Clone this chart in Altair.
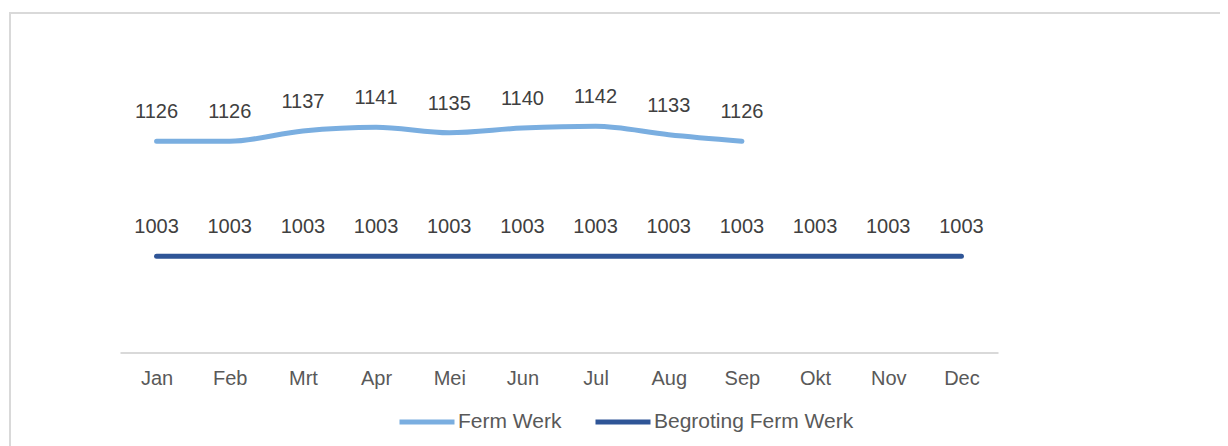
import altair as alt
import pandas as pd

months = ["Jan", "Feb", "Mrt", "Apr", "Mei", "Jun", "Jul", "Aug", "Sep", "Okt", "Nov", "Dec"]
ferm_werk = [1126, 1126, 1137, 1141, 1135, 1140, 1142, 1133, 1126]
begroting = [1003, 1003, 1003, 1003, 1003, 1003, 1003, 1003, 1003, 1003, 1003, 1003]
series_names = ["Ferm Werk", "Begroting Ferm Werk"]
series_colors = ["#7aaee0", "#2f5597"]

rows = []
for m, v in zip(months, ferm_werk):
    rows.append({"maand": m, "waarde": v, "serie": series_names[0]})
for m, v in zip(months, begroting):
    rows.append({"maand": m, "waarde": v, "serie": series_names[1]})
df = pd.DataFrame(rows)

FONT = "Liberation Sans"

x_enc = alt.X("maand:N", sort=months,
              scale=alt.Scale(domain=months, paddingInner=0, paddingOuter=0),
              axis=alt.Axis(title=None, labelAngle=0, ticks=False, grid=False,
                            domainColor="#d9d9d9", domainWidth=2,
                            labelColor="#595959", labelFont=FONT, labelFontSize=20,
                            labelPadding=16))
y_enc = alt.Y("waarde:Q", scale=alt.Scale(domain=[900, 1200], nice=False, zero=False),
              axis=None)
color_enc = alt.Color("serie:N",
                      scale=alt.Scale(domain=series_names, range=series_colors),
                      legend=alt.Legend(title=None, orient="none", direction="horizontal",
                                        legendX=277, legendY=320,
                                        symbolType="stroke", symbolSize=3025,
                                        symbolStrokeWidth=5, labelOffset=1,
                                        columnPadding=23, labelLimit=400,
                                        labelFont=FONT, labelFontSize=21,
                                        labelColor="#595959"))

base = alt.Chart(df)

lines = base.mark_line(strokeWidth=5, interpolate="monotone", strokeCap="round").encode(
    x=x_enc, y=y_enc, color=color_enc, detail="serie:N")

labels = base.mark_text(dy=-29, font=FONT, fontSize=20, color="#404040", baseline="middle").encode(
    x=alt.X("maand:N", sort=months), y="waarde:Q", text="waarde:Q")

border = alt.Chart(pd.DataFrame({"k": [0]})).mark_rect(
    fill=None, stroke="#d9d9d9", strokeWidth=2).encode(
    x=alt.value(-110), x2=alt.value(1200), y=alt.value(-59), y2=alt.value(500))

chart = alt.layer(border, lines, labels).properties(
    width=878, height=280.5,
    background="white",
    autosize=alt.AutoSizeParams(type="none"),
    padding={"left": 112, "top": 64, "right": 222, "bottom": 100},
).configure_view(stroke=None)

chart.save("out.html", embed_options={"renderer": "svg", "actions": False})
